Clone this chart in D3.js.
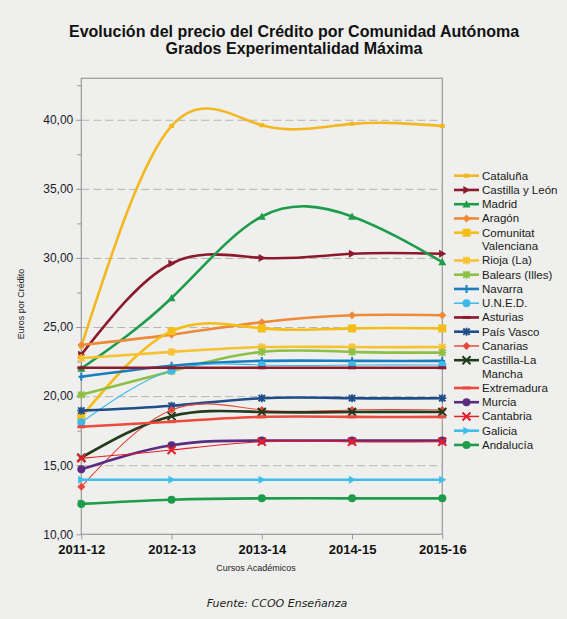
<!DOCTYPE html>
<html lang="es">
<head>
<meta charset="UTF-8">
<title>Evolución del precio del Crédito</title>
<style>
  body { margin: 0; background: #eff0ed; }
  svg { display: block; font-family: "Liberation Sans", Arial, sans-serif; }
  .axis path.domain { display: none; }
  .axis line { stroke: #999; }
  .y.axis text { font-size: 12px; fill: #1a1a2a; }
  .x.axis text { font-size: 13px; font-weight: bold; fill: #111; }
  .grid path.domain { display: none; }
  .grid line { stroke: #b4b4b4; stroke-dasharray: 8,4; }
  .grid text { display: none; }
  .legend text { font-size: 11.5px; fill: #1a1a1a; }
</style>
</head>
<body>
<svg id="chart" width="567" height="619"></svg>
<script src="https://cdn.jsdelivr.net/npm/d3@7"></script>
<script>
// data
var cursos = ["2011-12", "2012-13", "2013-14", "2014-15", "2015-16"];

var comunidades = ["Cataluña", "Castilla y León", "Madrid", "Aragón", "Comunitat Valenciana",
  "Rioja (La)", "Balears (Illes)", "Navarra", "U.N.E.D.", "Asturias", "País Vasco",
  "Canarias", "Castilla-La Mancha", "Extremadura", "Murcia", "Cantabria", "Galicia", "Andalucía"];

var cataluna    = [23.6, 39.55, 39.6, 39.7, 39.55];
var castLeon    = [23.0, 29.6, 30.0, 30.3, 30.3];
var madrid      = [22.0, 27.1, 33.0, 33.0, 29.7];
var aragon      = [23.7, 24.45, 25.35, 25.85, 25.85];
var valenciana  = [18.5, 24.7, 24.9, 24.9, 24.9];
var rioja       = [22.75, 23.2, 23.55, 23.55, 23.55];
var balears     = [20.1, 21.8, 23.2, 23.2, 23.15];
var navarra     = [21.4, 22.2, 22.55, 22.55, 22.55];
var uned        = [18.1, 21.85, 22.25, 22.25, 22.25];
var asturias    = [22.05, 22.05, 22.05, 22.05, 22.05];
var paisVasco   = [18.95, 19.3, 19.85, 19.85, 19.85];
var canarias    = [13.45, 19.0, 19.0, 19.0, 19.0];
var castMancha  = [15.55, 18.55, 18.85, 18.85, 18.85];
var extremadura = [17.78, 18.15, 18.5, 18.5, 18.5];
var murcia      = [14.7, 16.45, 16.78, 16.78, 16.78];
var cantabria   = [15.5, 16.1, 16.7, 16.7, 16.7];
var galicia     = [13.95, 13.95, 13.95, 13.95, 13.95];
var andalucia   = [12.2, 12.5, 12.6, 12.6, 12.6];

var yTicks = [10, 15, 20, 25, 30, 35, 40];
var yMinor = [12.5, 17.5, 22.5, 27.5, 32.5, 37.5, 42.5];

var valores = [cataluna, castLeon, madrid, aragon, valenciana, rioja, balears, navarra, uned,
  asturias, paisVasco, canarias, castMancha, extremadura, murcia, cantabria, galicia, andalucia];

// look of each series, same order as comunidades
var estilos = [
  {color: "#f3b71f", marker: "smallsquare", w: 2.6},
  {color: "#8c1a2c", marker: "triRight", w: 2.6},
  {color: "#1d9c4a", marker: "triUp", w: 2.6},
  {color: "#ee8a37", marker: "diamond", w: 2.6},
  {color: "#f4bd17", marker: "square", w: 2.6},
  {color: "#f7c12f", marker: "asterisk", w: 2.6},
  {color: "#8cbf44", marker: "asterisk", w: 2.6},
  {color: "#1a7dc0", marker: "plus", w: 2.6},
  {color: "#3cb9ea", marker: "circle", w: 1.1},
  {color: "#8c1a2c", marker: "dash", w: 2.6},
  {color: "#1e4d8a", marker: "asterisk", w: 2.6},
  {color: "#e8483b", marker: "diamond", w: 1.1},
  {color: "#233a1c", marker: "x", w: 2.6},
  {color: "#ec4a3d", marker: "dash", w: 2.6},
  {color: "#5a2c80", marker: "circle", w: 2.6},
  {color: "#e51f2a", marker: "x", w: 1.2},
  {color: "#41bdea", marker: "triRight", w: 2.6},
  {color: "#1d9c4a", marker: "circle", w: 2.6}
];

var series = comunidades.map(function(n, i) {
  return {name: n, values: valores[i], style: estilos[i]};
});

var plotL = 81.3, plotR = 442.3, plotT = 78.3, plotB = 534.3;

var svg = d3.select("#chart");

var x = d3.scalePoint().domain(cursos).range([plotL, plotR]);
var y = d3.scaleLinear().domain([10, 43]).range([plotB, plotT]);

// gridlines
svg.append("g")
  .attr("class", "grid")
  .attr("transform", "translate(" + plotL + ",0)")
  .call(d3.axisLeft(y).tickValues(yTicks.slice(1)).tickSize(-(plotR - plotL)).tickFormat(""));

// frame
svg.append("rect")
  .attr("x", plotL).attr("y", plotT)
  .attr("width", plotR - plotL).attr("height", plotB - plotT)
  .attr("fill", "none").attr("stroke", "#999").attr("stroke-width", 1.2);

svg.append("g")
  .attr("class", "y axis")
  .attr("transform", "translate(" + plotL + ",0)")
  .call(d3.axisLeft(y).tickValues(yTicks).tickSize(5).tickPadding(3)
    .tickFormat(function(d) { return d3.format(".2f")(d).replace(".", ","); }));

svg.append("g")
  .attr("class", "y axis minor")
  .attr("transform", "translate(" + plotL + ",0)")
  .call(d3.axisLeft(y).tickValues(yMinor).tickSize(4).tickFormat(""));

svg.append("g")
  .attr("class", "x axis")
  .attr("transform", "translate(0," + plotB + ")")
  .call(d3.axisBottom(x).tickSize(5).tickPadding(5));

// lines
var line = d3.line()
  .x(function(d, i) { return x(cursos[i]); })
  .y(function(d) { return y(d); })
  .curve(d3.curveNatural);

function marker(g, type, color, size) {
  var s = size / 2;
  if (type == "square") {
    g.append("rect").attr("x", -s).attr("y", -s).attr("width", size).attr("height", size).attr("fill", color);
  } else if (type == "smallsquare") {
    g.append("rect").attr("x", -2.5).attr("y", -2).attr("width", 5).attr("height", 4).attr("fill", color);
  } else if (type == "circle") {
    g.append("circle").attr("r", s).attr("fill", color);
  } else if (type == "diamond") {
    g.append("path").attr("d", "M0," + (-s) + "L" + s + ",0L0," + s + "L" + (-s) + ",0Z").attr("fill", color);
  } else if (type == "triUp") {
    g.append("path").attr("d", "M0," + (-s) + "L" + s + "," + (s * 0.8) + "L" + (-s) + "," + (s * 0.8) + "Z").attr("fill", color);
  } else if (type == "triRight") {
    g.append("path").attr("d", "M" + s + ",0L" + (-s * 0.8) + "," + (-s) + "L" + (-s * 0.8) + "," + s + "Z").attr("fill", color);
  } else if (type == "x") {
    g.append("path").attr("d", "M" + (-s) + "," + (-s) + "L" + s + "," + s + "M" + s + "," + (-s) + "L" + (-s) + "," + s)
      .attr("stroke", color).attr("stroke-width", 2).attr("fill", "none");
  } else if (type == "plus") {
    g.append("path").attr("d", "M0," + (-s) + "V" + s + "M" + (-s * 0.7) + ",0H" + (s * 0.7))
      .attr("stroke", color).attr("stroke-width", 2).attr("fill", "none");
  } else if (type == "asterisk") {
    var a = s * 0.8;
    g.append("path").attr("d", "M0," + (-s) + "V" + s + "M" + (-s) + ",0H" + s +
        "M" + (-a) + "," + (-a) + "L" + a + "," + a + "M" + a + "," + (-a) + "L" + (-a) + "," + a)
      .attr("stroke", color).attr("stroke-width", 1.8).attr("fill", "none");
  } else if (type == "dash") {
    g.append("path").attr("d", "M" + (-s) + ",0H" + s).attr("stroke", color).attr("stroke-width", 3);
  }
}

var sg = svg.append("g").selectAll("g.serie")
  .data(series)
  .enter().append("g")
  .attr("class", "serie");

sg.append("path")
  .attr("d", function(d) { return line(d.values); })
  .attr("fill", "none")
  .attr("stroke", function(d) { return d.style.color; })
  .attr("stroke-width", function(d) { return d.style.w; });

sg.each(function(d) {
  var g = d3.select(this);
  d.values.forEach(function(v, i) {
    var m = g.append("g").attr("transform", "translate(" + x(cursos[i]) + "," + y(v) + ")");
    marker(m, d.style.marker, d.style.color, 8);
  });
});

// legend
var legend = svg.append("g").attr("class", "legend");
var ly = 175.7;
series.forEach(function(d) {
  var g = legend.append("g").attr("transform", "translate(0," + ly + ")");
  g.append("line")
    .attr("x1", 454).attr("x2", 479)
    .attr("stroke", d.style.color).attr("stroke-width", d.style.w > 2 ? 2.6 : 1.5);
  marker(g.append("g").attr("transform", "translate(466.5,0)"), d.style.marker, d.style.color, 8);
  var t = g.append("text").attr("x", 482).attr("y", 4).text(d.name);
  var extra = 0;
  if (t.node().getComputedTextLength() > 85) {
    var cut = d.name.lastIndexOf(" ");
    t.text(null);
    t.append("tspan").attr("x", 482).attr("y", 4).text(d.name.slice(0, cut));
    t.append("tspan").attr("x", 482).attr("y", 17.5).text(d.name.slice(cut + 1));
    extra = 13.5;
  }
  ly += 14.25 + extra;
});

// titles
svg.append("text")
  .attr("x", 294).attr("y", 37)
  .attr("text-anchor", "middle")
  .style("font-size", "16px").style("font-weight", "bold").style("fill", "#111")
  .text("Evolución del precio del Crédito por Comunidad Autónoma");
svg.append("text")
  .attr("x", 294).attr("y", 54)
  .attr("text-anchor", "middle")
  .style("font-size", "16px").style("font-weight", "bold").style("fill", "#111")
  .text("Grados Experimentalidad Máxima");

svg.append("text")
  .attr("transform", "translate(24,304) rotate(-90)")
  .attr("text-anchor", "middle")
  .style("font-size", "9px").style("fill", "#222")
  .text("Euros por Crédito");

svg.append("text")
  .attr("x", 256).attr("y", 571)
  .attr("text-anchor", "middle")
  .style("font-size", "9px").style("fill", "#222")
  .text("Cursos Académicos");

svg.append("text")
  .attr("x", 277).attr("y", 607)
  .attr("text-anchor", "middle")
  .style("font-family", "'DejaVu Sans', sans-serif")
  .style("font-size", "11px").style("font-style", "italic").style("fill", "#222")
  .text("Fuente: CCOO Enseñanza");
</script>
</body>
</html>
